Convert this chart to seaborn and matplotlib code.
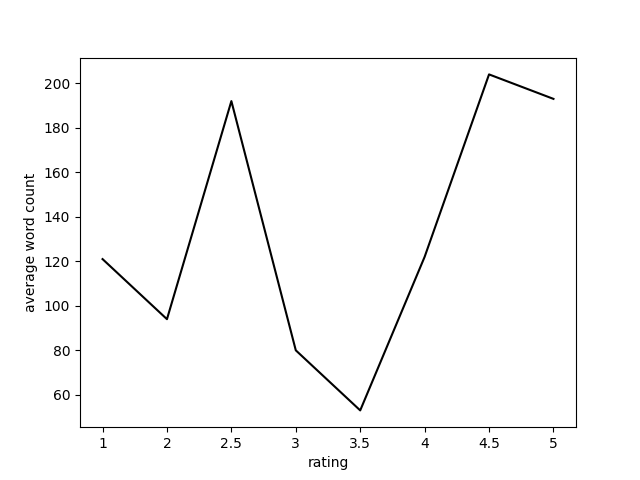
import seaborn as sns
import matplotlib
matplotlib.use("Agg")
import matplotlib.pyplot as plt
import pandas as pd

ratings = ["1", "2", "2.5", "3", "3.5", "4", "4.5", "5"]
avg_word_count = [121, 94, 192, 80, 53, 122, 204, 193]

df = pd.DataFrame({"rating": ratings, "average word count": avg_word_count})

fig, ax = plt.subplots(figsize=(6.4, 4.8), dpi=100)
sns.lineplot(data=df, x="rating", y="average word count", color="black", ax=ax, sort=False)
ax.set_xlabel("rating")
ax.set_ylabel("average word count")
fig.savefig("out.png")
